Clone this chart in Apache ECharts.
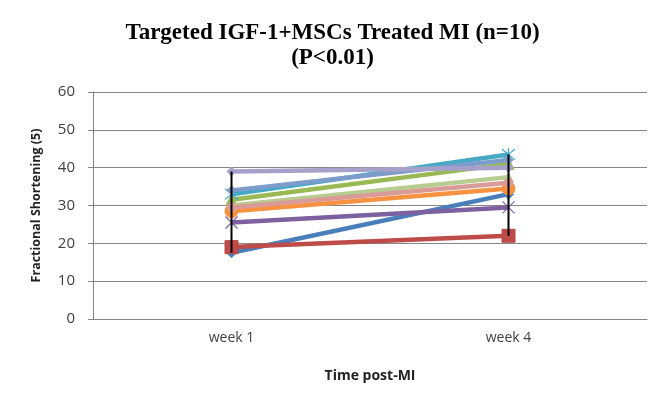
<!DOCTYPE html>
<html><head><meta charset="utf-8">
<script src="https://cdn.jsdelivr.net/npm/echarts@6/dist/echarts.min.js"></script>
<style>html,body{margin:0;padding:0;background:#fff}#c{width:665px;height:398px}</style>
</head><body><div id="c"></div>
<script>
var categories = ['week 1', 'week 4'];
var yTicks = [0, 10, 20, 30, 40, 50, 60];
var s1 = [17.5, 33];
var s2 = [19, 22];
var s3 = [31.5, 41];
var s4 = [25.5, 29.5];
var s5 = [33, 43.5];
var s6 = [28.5, 34.5];
var s7 = [34, 42];
var s8 = [39, 40];
var s9 = [30, 37.5];
var s10 = [29.5, 36];
var seriesValues = [s1, s2, s3, s4, s5, s6, s7, s8, s9, s10];
var colors = ['#4A7EBB', '#BE4B48', '#98B954', '#7D60A0', '#46AAC5', '#F69240', '#7E9CCB', '#A6A0CB', '#B7CC8F', '#DA9A98'];
var xPath = 'path://M0,0 L10,10 M10,0 L0,10';
var starPath = 'path://M0,0 L10,10 M10,0 L0,10 M5,-1 L5,11';
var symbols = ['diamond', 'rect', 'triangle', xPath, starPath, 'circle', 'diamond', 'diamond', 'triangle', 'circle'];
var sizes = [10, 13, 11, 12, 13, 13, 9, 9, 9, 9];

var series = seriesValues.map(function (vals, i) {
  var stroked = symbols[i].indexOf('path://') === 0;
  return {
    type: 'line', data: vals, symbol: symbols[i], symbolSize: sizes[i],
    showAllSymbol: true, z: 2 + i,
    lineStyle: { color: colors[i], width: 4.5 },
    itemStyle: stroked ? { color: 'rgba(0,0,0,0)', borderColor: colors[i], borderWidth: 1.2 } : { color: colors[i], borderColor: colors[i], borderWidth: 1 },
    emphasis: { disabled: true }, animation: false
  };
});
var hiLo = categories.map(function (c, j) {
  var v = seriesValues.map(function (s) { return s[j]; });
  return [j, Math.min.apply(null, v), Math.max.apply(null, v)];
});
series.push({
  type: 'custom', z: 50, animation: false, silent: true,
  data: hiLo,
  renderItem: function (params, api) {
    var a = api.coord([api.value(0), api.value(1)]);
    var b = api.coord([api.value(0), api.value(2)]);
    return { type: 'line', shape: { x1: a[0], y1: a[1], x2: b[0], y2: b[1] }, style: { stroke: '#000', lineWidth: 2 } };
  }
});

var chart = echarts.init(document.getElementById('c'), null, { renderer: 'canvas' });
chart.setOption({
  animation: false,
  backgroundColor: '#fff',
  title: {
    text: 'Targeted IGF-1+MSCs Treated MI (n=10)\n(P<0.01)',
    left: 'center', top: 16,
    textStyle: { fontFamily: 'Liberation Serif', fontWeight: 'bold', fontSize: 23, color: '#000', lineHeight: 25 }
  },
  grid: { left: 93, right: 18, top: 92, bottom: 79, containLabel: false },
  xAxis: {
    type: 'category', data: categories, boundaryGap: true,
    name: 'Time post-MI', nameLocation: 'middle', nameGap: 50,
    nameTextStyle: { fontFamily: 'Open Sans', fontWeight: 'bold', fontSize: 14, color: '#222' },
    axisLine: { lineStyle: { color: '#868686', width: 1 } },
    axisTick: { show: false },
    axisLabel: { fontFamily: 'Open Sans', fontSize: 14, color: '#404040', margin: 12 }
  },
  yAxis: {
    type: 'value', min: yTicks[0], max: yTicks[yTicks.length - 1], interval: yTicks[1] - yTicks[0],
    name: 'Fractional Shortening (5)', nameLocation: 'middle', nameGap: 50, nameRotate: 90,
    nameTextStyle: { fontFamily: 'Open Sans', fontWeight: 'bold', fontSize: 12.5, color: '#222' },
    axisLine: { show: true, lineStyle: { color: '#868686', width: 1 } },
    axisTick: { show: true, length: 5, lineStyle: { color: '#868686' } },
    splitLine: { show: true, lineStyle: { color: '#868686', width: 1 } },
    axisLabel: { fontFamily: 'Open Sans', fontSize: 15, color: '#404040', margin: 18 }
  },
  series: series
});
</script></body></html>
